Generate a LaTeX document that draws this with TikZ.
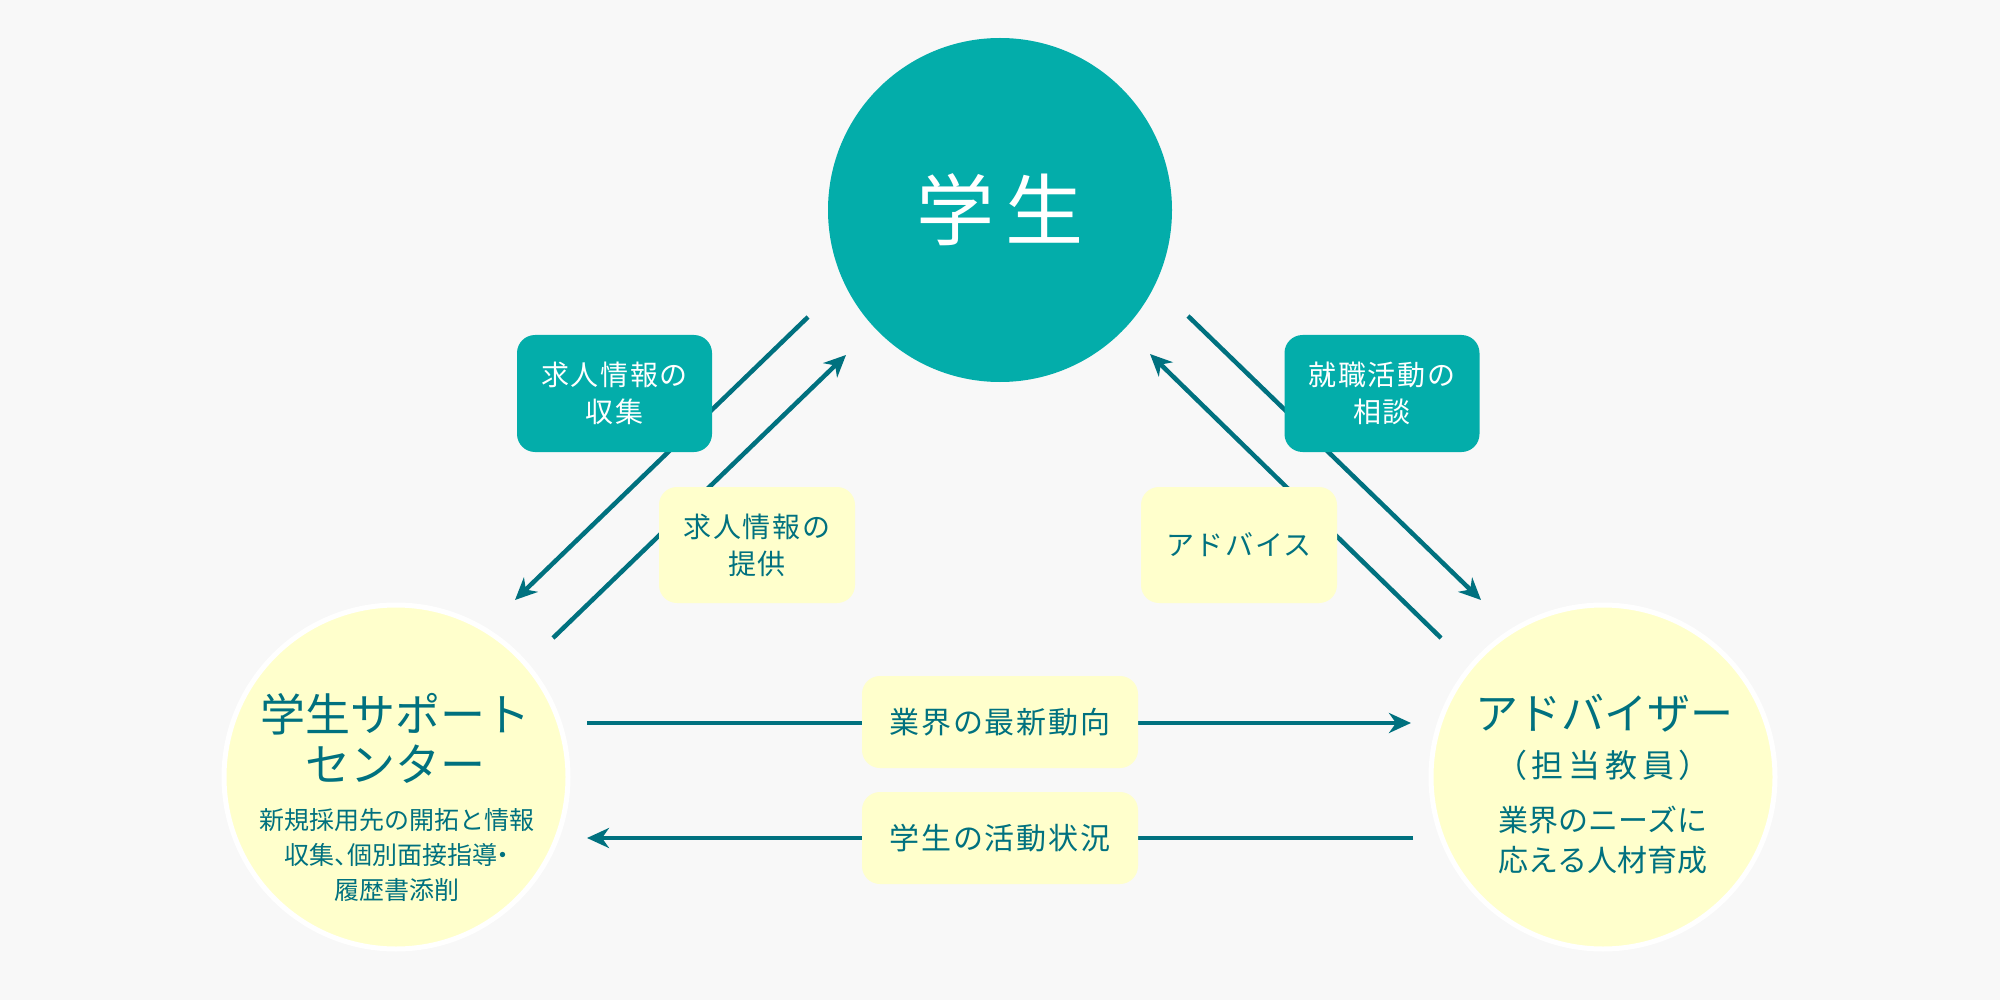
\documentclass[tikz,border=0pt]{standalone}
\usepackage{fontspec}
\setmainfont{Noto Sans CJK JP}
\usetikzlibrary{arrows.meta}
\definecolor{bg}{HTML}{F8F8F8}
\definecolor{teal1}{HTML}{03ADAA}
\definecolor{dteal}{HTML}{00717F}
\definecolor{pale}{HTML}{FFFFCC}
\tikzset{
  lbl/.style={rounded corners=18pt, inner sep=0pt, align=center,
    font=\fontsize{28}{37}\selectfont\addfontfeature{LetterSpace=6}},
  tealbox/.style={lbl, fill=teal1, text=white, minimum width=195pt, minimum height=117pt},
  palebox/.style={lbl, fill=pale, text=dteal, minimum width=196pt, minimum height=116pt},
  flowbox/.style={lbl, fill=pale, text=dteal, minimum width=276pt, minimum height=92pt,
    font=\fontsize{30}{37}\selectfont\addfontfeature{LetterSpace=6}},
  arr/.style={draw=dteal, line width=4.5pt, -{Stealth[length=22pt,width=20pt,inset=7pt]}},
  bigcirc/.style={circle, inner sep=0pt, minimum size=344pt},
  sidecirc/.style={bigcirc, fill=pale, draw=white, line width=5pt},
  ctext/.style={text=dteal, align=center, inner sep=0pt}
}
\begin{document}
\begin{tikzpicture}[x=1pt,y=-1pt]
\fill[bg] (0,0) rectangle (2000,1000);
\useasboundingbox (0,0) rectangle (2000,1000);

% circles
\node[bigcirc, fill=teal1, text=white, font=\fontsize{78}{80}\selectfont] (stu) at (1000,210) {学\hspace{12pt}生};
\node[sidecirc] (ssc) at (396,777) {};
\node[sidecirc] (adv) at (1603,777) {};

\node[ctext, font=\fontsize{45}{50}\selectfont] (sscT) at (395,738) {学生サポート\\センター};
\node[ctext, font=\fontsize{25}{35}\selectfont] (sscD) at (397,855) {新規採用先の開拓と情報\\{\addfontfeature{RawFeature=+halt}収集、}個別面接指導{\addfontfeature{RawFeature=+halt}・}\\履歴書添削};

\node[ctext, font=\fontsize{43}{50}\selectfont] (advT) at (1604,713) {アドバイザー};
\node[ctext, font=\fontsize{32}{40}\selectfont\addfontfeature{LetterSpace=15}] (advP) at (1603,765) {（担当教員）};
\node[ctext, font=\fontsize{30}{40}\selectfont] (advD) at (1603,840) {業界のニーズに\\応える人材育成};

% arrow end points
\coordinate (a1s) at (808,317);  \coordinate (a1e) at (515,600);
\coordinate (a2s) at (553,638);  \coordinate (a2e) at (846,355);
\coordinate (a3s) at (1188,316); \coordinate (a3e) at (1481,600);
\coordinate (a4s) at (1441,638); \coordinate (a4e) at (1150,354);
\coordinate (h1s) at (587,723);  \coordinate (h1e) at (1411,723);
\coordinate (h2s) at (1413,838); \coordinate (h2e) at (587,838);

\draw[arr] (a1s) -- (a1e);
\draw[arr] (a2s) -- (a2e);
\draw[arr] (a3s) -- (a3e);
\draw[arr] (a4s) -- (a4e);
\draw[arr] (h1s) -- (h1e);
\draw[arr] (h2s) -- (h2e);

% labels
\node[tealbox] (l1) at (614.5,393.5) {求人情報の\\収集};
\node[palebox] (l2) at (757,545) {求人情報の\\提供};
\node[tealbox] (l3) at (1382,393.5) {就職活動の\\相談};
\node[palebox] (l4) at (1239,545) {アドバイス};
\node[flowbox] (l5) at (1000,722) {業界の最新動向};
\node[flowbox] (l6) at (1000,838) {学生の活動状況};
\end{tikzpicture}
\end{document}
